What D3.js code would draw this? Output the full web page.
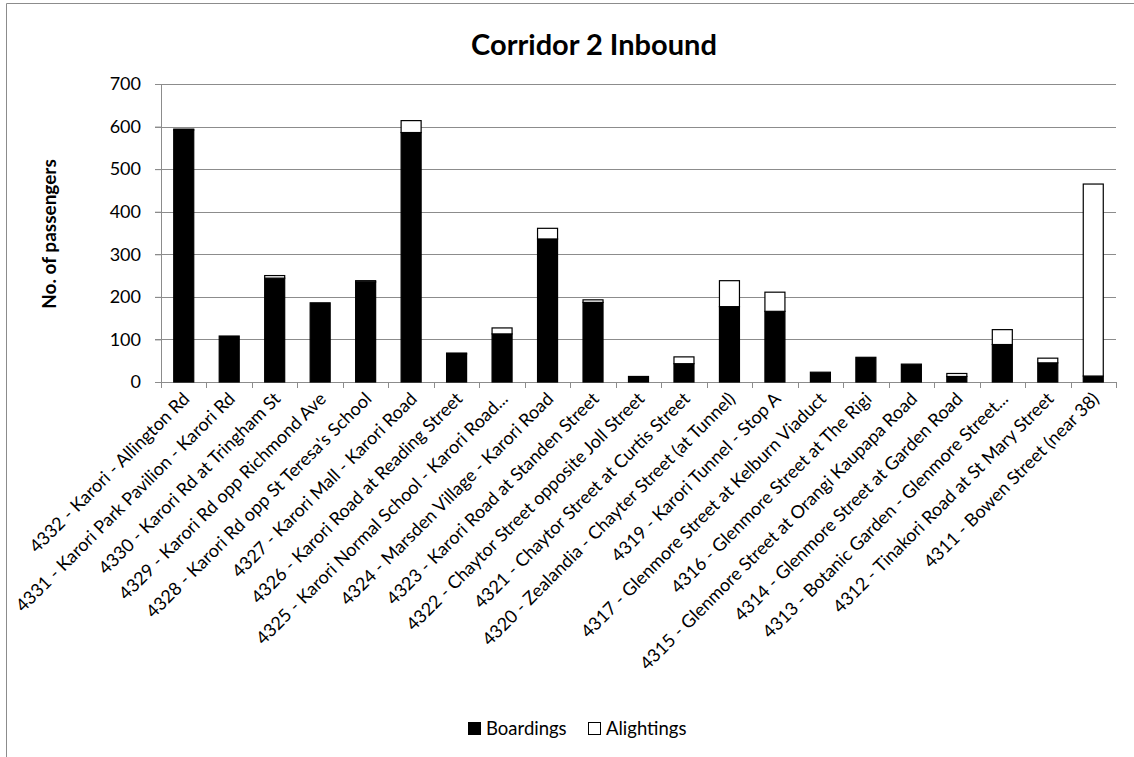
<!DOCTYPE html>
<meta charset="utf-8">
<script src="https://d3js.org/d3.v7.min.js"></script>
<style>
  body { margin: 0; background: #fff; }
  text { font-family: Lato, "Open Sans", sans-serif; fill: #000; }
</style>
<div id="chart"></div>
<script>

// stops along corridor 2 inbound
var stops = [
  "4332 - Karori - Allington Rd",
  "4331 - Karori Park Pavilion - Karori Rd",
  "4330 - Karori Rd at Tringham St",
  "4329 - Karori Rd opp Richmond Ave",
  "4328 - Karori Rd opp St Teresa's School",
  "4327 - Karori Mall - Karori Road",
  "4326 - Karori Road at Reading Street",
  "4325 - Karori Normal School - Karori Road...",
  "4324 - Marsden Village - Karori Road",
  "4323 - Karori Road at Standen Street",
  "4322 - Chaytor Street opposite Joll Street",
  "4321 - Chaytor Street at Curtis Street",
  "4320 - Zealandia - Chayter Street (at Tunnel)",
  "4319 - Karori Tunnel - Stop A",
  "4317 - Glenmore Street at Kelburn Viaduct",
  "4316 - Glenmore Street at The Rigi",
  "4315 - Glenmore Street at Orangi Kaupapa Road",
  "4314 - Glenmore Street at Garden Road",
  "4313 - Botanic Garden - Glenmore Street...",
  "4312 - Tinakori Road at St Mary Street",
  "4311 - Bowen Street (near 38)"
];
var boardings  = [592, 108, 244, 186, 235, 586, 66, 113, 336, 187, 13, 43, 177, 166, 23, 58, 42, 13, 88, 45, 14];
var alightings = [2, 0, 6, 0, 3, 28, 2, 14, 25, 6, 0, 16, 61, 45, 0, 0, 0, 7, 35, 11, 451];
var yTicks = [0, 100, 200, 300, 400, 500, 600, 700];
var seriesNames = ["Boardings", "Alightings"];

var W = 1134, H = 757;
var margin = {top: 84, left: 161, right: 18, bottom: 375};
var width = W - margin.left - margin.right,
    height = H - margin.top - margin.bottom;

var svg = d3.select("#chart").append("svg")
    .attr("width", W)
    .attr("height", H);

// chart frame (only top/left visible in this crop)
svg.append("path")
  .attr("d", "M6.5," + H + "V3.5H" + W)
  .attr("fill", "none")
  .attr("stroke", "#8c8c8c")
  .attr("stroke-width", 1);

svg.append("text")
  .attr("x", 594)
  .attr("y", 55)
  .attr("text-anchor", "middle")
  .style("font-size", "29px")
  .style("font-weight", "bold")
  .text("Corridor 2 Inbound");

var g = svg.append("g")
  .attr("transform", "translate(" + margin.left + "," + margin.top + ")");

var x = d3.scaleBand()
  .domain(stops)
  .range([0, width])
  .paddingInner(0.56)
  .paddingOuter(0.28);

var y = d3.scaleLinear()
  .domain([0, 700])
  .range([height, 0]);

// gridlines
g.selectAll(".grid")
  .data(yTicks)
  .enter()
  .append("line")
    .attr("x1", -6)
    .attr("x2", width)
    .attr("y1", function(d) { return Math.round(y(d)) + 0.5 })
    .attr("y2", function(d) { return Math.round(y(d)) + 0.5 })
    .attr("stroke", "#8c8c8c")
    .attr("stroke-width", 1);

// y axis labels
var yAxis = g.append("g")
  .call(d3.axisLeft(y).tickValues(yTicks).tickSize(6).tickPadding(14));
yAxis.select(".domain").attr("stroke", "#8c8c8c");
yAxis.selectAll(".tick line").attr("stroke", "#8c8c8c");
yAxis.selectAll(".tick text")
  .style("font-size", "18px")
  .style("font-family", "Lato, 'Open Sans', sans-serif");

// x axis with ticks at band boundaries
var bounds = d3.range(stops.length + 1);
g.append("g")
  .selectAll("line")
  .data(bounds)
  .enter()
  .append("line")
    .attr("x1", function(i) { return Math.round(i * width / stops.length) + 0.5 })
    .attr("x2", function(i) { return Math.round(i * width / stops.length) + 0.5 })
    .attr("y1", height)
    .attr("y2", height + 6)
    .attr("stroke", "#8c8c8c");
g.append("line")
  .attr("x1", 0).attr("x2", width)
  .attr("y1", height + 0.5).attr("y2", height + 0.5)
  .attr("stroke", "#8c8c8c");

// stacked bars
var rows = stops.map(function(s, i) {
  return {stop: s, Boardings: boardings[i], Alightings: alightings[i]};
});
var stacked = d3.stack().keys(seriesNames)(rows);
var fills = {Boardings: "#000", Alightings: "#fff"};

g.selectAll(".series")
  .data(stacked)
  .enter()
  .append("g")
    .attr("fill", function(d) { return fills[d.key] })
  .selectAll("rect")
  .data(function(d) { return d })
  .enter()
  .append("rect")
    .attr("x", function(d) { return x(d.data.stop) })
    .attr("width", x.bandwidth())
    .attr("y", function(d) { return y(d[1]) })
    .attr("height", function(d) { return Math.max(0, y(d[0]) - y(d[1])) })
    .attr("stroke", "#000")
    .attr("stroke-width", function(d) { return d[1] - d[0] > 0 ? 1.2 : 0 });

// rotated stop labels
g.selectAll(".xlabel")
  .data(stops)
  .enter()
  .append("text")
    .attr("text-anchor", "end")
    .attr("transform", function(d) {
      return "translate(" + (x(d) + x.bandwidth() / 2 + 7) + "," + (height + 18) + ") rotate(-45)";
    })
    .style("font-size", "18px")
    .text(function(d) { return d });

// y axis title
svg.append("text")
  .attr("transform", "translate(56,234) rotate(-90)")
  .attr("text-anchor", "middle")
  .style("font-size", "19px")
  .style("font-weight", "bold")
  .text("No. of passengers");

// legend
var legend = svg.append("g")
  .selectAll("g")
  .data(seriesNames)
  .enter()
  .append("g")
    .attr("transform", function(d, i) { return "translate(" + (468 + i * 120) + ",722)" });
legend.append("rect")
  .attr("x", 0.5).attr("y", 0.5)
  .attr("width", 12).attr("height", 12)
  .attr("fill", function(d) { return fills[d] })
  .attr("stroke", "#000");
legend.append("text")
  .attr("x", 18)
  .attr("y", 13)
  .style("font-size", "18.5px")
  .text(function(d) { return d });

</script>
